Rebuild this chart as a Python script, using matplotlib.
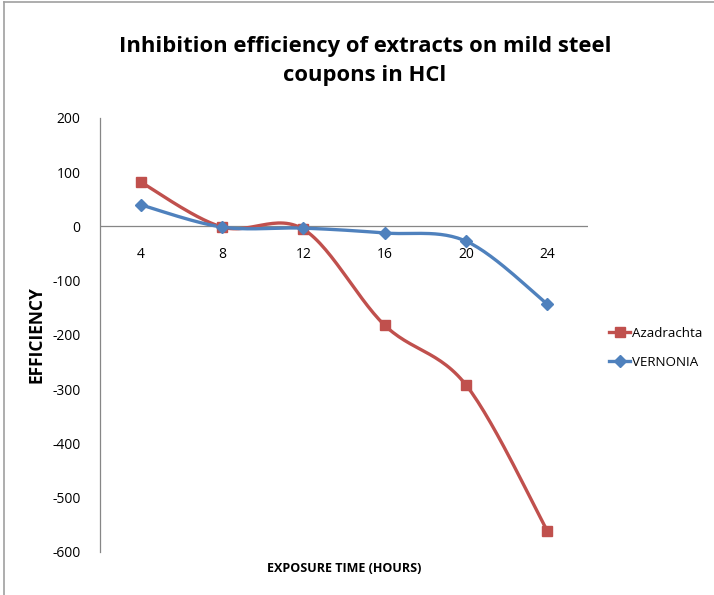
import numpy as np
import matplotlib
matplotlib.use("Agg")
import matplotlib.pyplot as plt
from matplotlib.lines import Line2D

plt.rcParams['font.family'] = ['Open Sans', 'DejaVu Sans']
plt.rcParams['axes.unicode_minus'] = False

# data
hours = ["4", "8", "12", "16", "20", "24"]
azadrachta = [82, -1, -5, -182, -292, -561]
vernonia = [40, -1, -3, -12, -27, -143]

red = "#C0504D"
blue = "#4F81BD"
axis_gray = "#868686"


def smooth(xs, ys, n=30):
    # Excel-like smoothed line (Catmull-Rom bezier)
    xs = np.asarray(xs, float)
    ys = np.asarray(ys, float)
    px = np.concatenate([[xs[0]], xs, [xs[-1]]])
    py = np.concatenate([[ys[0]], ys, [ys[-1]]])
    ox, oy = [], []
    t = np.linspace(0, 1, n)
    for i in range(1, len(px) - 2):
        p0 = np.array([px[i], py[i]])
        p3 = np.array([px[i + 1], py[i + 1]])
        p1 = p0 + (np.array([px[i + 1], py[i + 1]]) - np.array([px[i - 1], py[i - 1]])) / 6
        p2 = p3 - (np.array([px[i + 2], py[i + 2]]) - np.array([px[i], py[i]])) / 6
        b = ((1 - t) ** 3)[:, None] * p0 + (3 * (1 - t) ** 2 * t)[:, None] * p1 \
            + (3 * (1 - t) * t ** 2)[:, None] * p2 + (t ** 3)[:, None] * p3
        ox.extend(b[:, 0])
        oy.extend(b[:, 1])
    return ox, oy


fig = plt.figure(figsize=(7.14, 5.95), dpi=100)
ax = fig.add_axes([0.140, 0.0723, 0.6835, 0.7294])

x = np.arange(1, len(hours) + 1)

sx, sy = smooth(x, azadrachta)
ax.plot(sx, sy, color=red, lw=2.4, zorder=3)
ax.plot(x, azadrachta, ls="none", marker="s", ms=7.5, color=red, zorder=4)

sx, sy = smooth(x, vernonia)
ax.plot(sx, sy, color=blue, lw=2.4, zorder=3)
ax.plot(x, vernonia, ls="none", marker="D", ms=6.5, color=blue, zorder=4)

ax.set_xlim(0.5, len(hours) + 0.5)
ax.set_ylim(-600, 200)
ax.set_yticks(np.arange(-600, 201, 100))
ax.tick_params(axis="y", length=0, labelsize=10, pad=14, colors="black")
ax.set_xticks([])

for s in ["top", "right", "bottom"]:
    ax.spines[s].set_visible(False)
ax.spines["left"].set_color(axis_gray)
ax.spines["left"].set_linewidth(0.9)
ax.axhline(0, color=axis_gray, lw=0.9, zorder=2)

for xi, lab in zip(x, hours):
    ax.annotate(lab, (xi, 0), xytext=(0, -20), textcoords="offset points",
                ha="center", va="center", fontsize=10)

ax.set_ylabel("EFFICIENCY", fontsize=12.5, fontweight="bold", labelpad=5)
ax.set_xlabel("EXPOSURE TIME (HOURS)", fontsize=9, fontweight="bold", labelpad=7)

fig.text(0.511, 0.897, "Inhibition efficiency of extracts on mild steel\ncoupons in HCl",
         ha="center", va="center", fontsize=15.8, fontweight="bold", linespacing=1.5)

handles = [Line2D([], [], color=red, lw=2.4, marker="s", ms=7.5),
           Line2D([], [], color=blue, lw=2.4, marker="D", ms=6.5)]
fig.legend(handles, ["Azadrachta", "VERNONIA"], loc="center left",
           bbox_to_anchor=(0.853, 0.415), frameon=False, fontsize=9.6,
           handlelength=1.6, handletextpad=0.1, labelspacing=1.2,
           borderaxespad=0, borderpad=0)

# chart border (left and top edges visible)
fig.add_artist(Line2D([0.005, 0.005], [0.0, 0.996], color="#A0A0A0", lw=1.2))
fig.add_artist(Line2D([0.005, 1.0], [0.996, 0.996], color="#A0A0A0", lw=1.2))

fig.savefig("out.png", dpi=100)
